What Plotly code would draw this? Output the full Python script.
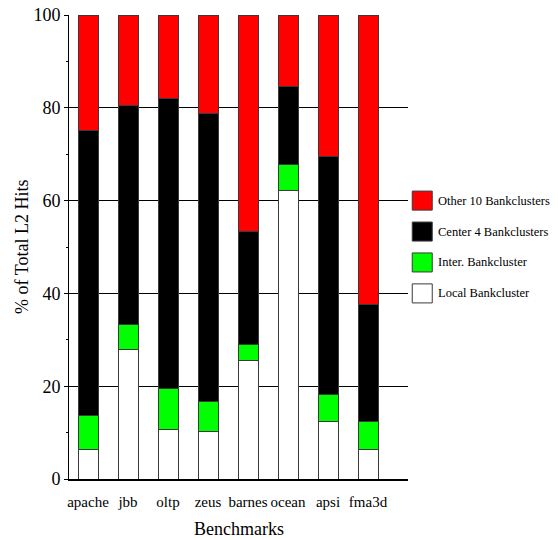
import plotly.graph_objects as go

# Share of L2 hits per benchmark, split by where the hit was served
benchmarks = ["apache", "jbb", "oltp", "zeus", "barnes", "ocean", "apsi", "fma3d"]
local_bc = [6.3, 28.0, 10.6, 10.2, 25.5, 62.2, 12.4, 6.3]
inter_bc = [7.4, 5.3, 9.0, 6.5, 3.5, 5.6, 5.9, 6.1]
center4_bc = [61.5, 47.2, 62.3, 62.0, 24.4, 16.7, 51.3, 25.2]
other10_bc = [24.8, 19.5, 18.1, 21.3, 46.6, 15.5, 30.4, 62.4]

series_names = ["Local Bankcluster", "Inter. Bankcluster",
                "Center 4 Bankclusters", "Other 10 Bankclusters"]
series_values = [local_bc, inter_bc, center4_bc, other10_bc]
series_colors = ["#ffffff", "#00ff00", "#000000", "#ff0000"]

FONT = "Liberation Serif, Times New Roman, serif"

fig = go.Figure()
for name, vals, col in zip(series_names, series_values, series_colors):
    fig.add_trace(go.Bar(
        x=benchmarks, y=vals, name=name, width=0.5,
        marker=dict(color=col, line=dict(color="#3a3a3a", width=1)),
        showlegend=False,
    ))

# Legend drawn as boxes + labels beside the plot, top entry first
legend_y = [60, 53.33, 46.67, 40]
half_h = 2.05
for yc, name, col in zip(legend_y, series_names[::-1], series_colors[::-1]):
    fig.add_shape(type="rect", xref="paper", yref="y",
                  x0=1.0125, x1=1.0715, y0=yc - half_h, y1=yc + half_h,
                  fillcolor=col, line=dict(color="#3a3a3a", width=1))
    fig.add_annotation(xref="paper", yref="y", x=1.082, y=yc, text=name,
                       showarrow=False, xanchor="left", yanchor="middle",
                       font=dict(family=FONT, size=12.5, color="black"))

# Axis titles
fig.add_annotation(xref="paper", yref="paper", x=0.5, y=-0.081,
                   text="Benchmarks", showarrow=False,
                   xanchor="center", yanchor="top",
                   font=dict(family=FONT, size=18, color="black"))
fig.add_annotation(xref="paper", yref="paper", x=-0.139, y=0.5,
                   text="% of Total L2 Hits", showarrow=False, textangle=-90,
                   xanchor="center", yanchor="middle",
                   font=dict(family=FONT, size=18, color="black"))

fig.update_layout(
    width=558, height=540,
    margin=dict(l=69, r=150, t=15, b=61),
    barmode="stack",
    plot_bgcolor="white", paper_bgcolor="white",
    font=dict(family=FONT, color="black"),
)
fig.update_xaxes(
    range=[-0.475, 8.0], automargin=False,
    showline=True, linecolor="black", linewidth=2,
    ticks="", ticklabelstandoff=8,
    tickfont=dict(family=FONT, size=15),
    showgrid=False, zeroline=False,
)
fig.update_yaxes(
    range=[0, 100], tickvals=[0, 20, 40, 60, 80, 100], automargin=False,
    showline=True, linecolor="black", linewidth=1,
    ticks="outside", ticklen=4, tickcolor="black",
    minor=dict(ticks="outside", ticklen=2, tickcolor="black", dtick=10, showgrid=False),
    showgrid=True, gridcolor="black", gridwidth=1,
    zeroline=False,
    tickfont=dict(family=FONT, size=18),
)

fig.write_html("out.html")
